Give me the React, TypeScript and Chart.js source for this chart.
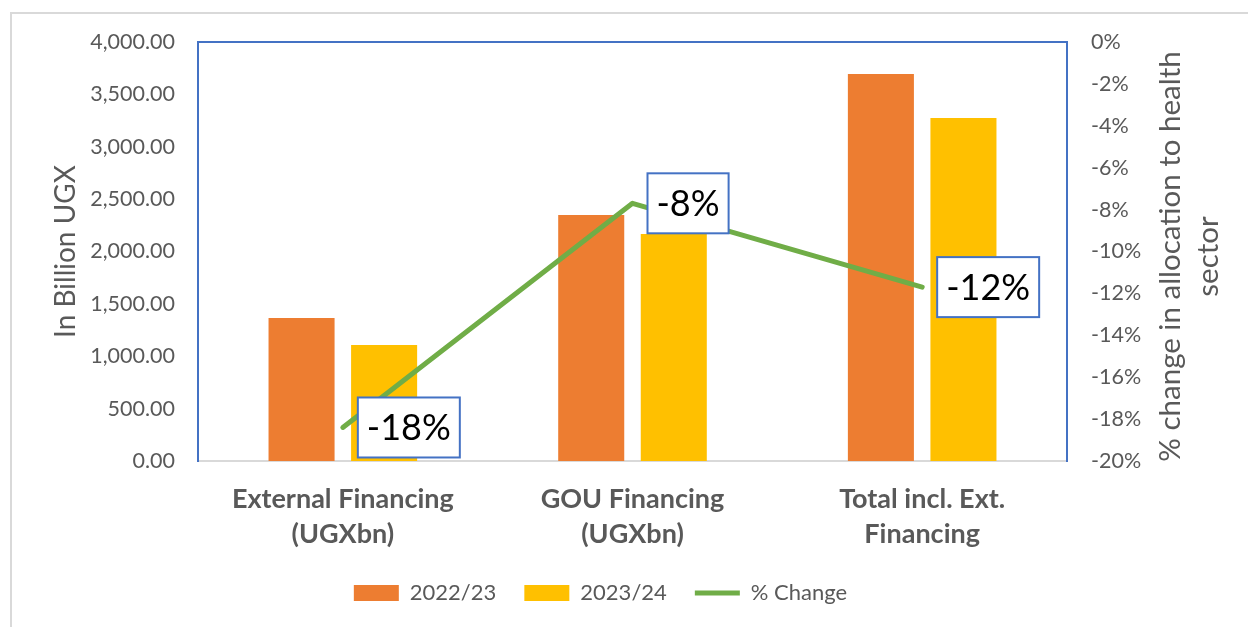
import React, { useEffect, useRef } from "react";
import { Chart, registerables } from "chart.js";

Chart.register(...registerables);

const categories: string[][] = [
  ["External Financing", "(UGXbn)"],
  ["GOU Financing", "(UGXbn)"],
  ["Total incl. Ext.", "Financing"],
];
const values2022: number[] = [1365, 2348, 3695];
const values2023: number[] = [1107, 2167, 3274];
const pctChange: number[] = [-18.4, -7.7, -11.7];
const seriesNames: string[] = ["2022/23", "2023/24", "% Change"];
const leftTitle = "In Billion UGX";
const rightTitleLines: string[] = ["% change in allocation to health", "sector"];

const FONT = "Lato, 'Open Sans', sans-serif";
const GREY = "#595959";
const BLUE = "#4472C4";

const frameLines = {
  id: "frameLines",
  beforeDatasetsDraw(chart: any) {
    const { ctx, chartArea } = chart;
    ctx.save();
    ctx.strokeStyle = BLUE;
    ctx.lineWidth = 2;
    ctx.beginPath();
    ctx.moveTo(chartArea.left, chartArea.bottom);
    ctx.lineTo(chartArea.left, chartArea.top);
    ctx.lineTo(chartArea.right, chartArea.top);
    ctx.lineTo(chartArea.right, chartArea.bottom);
    ctx.stroke();
    ctx.restore();
  },
};

const rightTitle = {
  id: "rightTitle",
  afterDraw(chart: any) {
    const { ctx } = chart;
    const s = chart.scales.y2;
    const cy = (s.top + s.bottom) / 2 + 5;
    ctx.save();
    ctx.translate(s.left + 103, cy);
    ctx.rotate(-Math.PI / 2);
    ctx.font = `29.5px ${FONT}`;
    ctx.fillStyle = GREY;
    ctx.textAlign = "center";
    ctx.textBaseline = "middle";
    rightTitleLines.forEach((line, i) => ctx.fillText(line, 0, i * 38));
    ctx.restore();
  },
};

const shiftLegend = {
  id: "shiftLegend",
  afterLayout(chart: any) {
    const lg = chart.legend;
    if (lg) {
      lg.left -= 13;
      lg.right -= 13;
    }
  },
};

const boxLabels = {
  id: "boxLabels",
  afterDatasetsDraw(chart: any) {
    const { ctx } = chart;
    const meta = chart.getDatasetMeta(2);
    if (!meta || meta.hidden) return;
    const data = chart.data.datasets[2].data as number[];
    ctx.save();
    ctx.font = `36px ${FONT}`;
    meta.data.forEach((pt: any, i: number) => {
      const text = `${Math.round(data[i])}%`;
      const w = ctx.measureText(text).width + 18;
      const h = 60;
      const left = pt.x + 15;
      const top = pt.y - h / 2;
      ctx.fillStyle = "#ffffff";
      ctx.fillRect(left, top, w, h);
      ctx.strokeStyle = BLUE;
      ctx.lineWidth = 2;
      ctx.strokeRect(left, top, w, h);
      ctx.fillStyle = "#000000";
      ctx.textAlign = "center";
      ctx.textBaseline = "middle";
      ctx.fillText(text, left + w / 2, pt.y + 1);
    });
    ctx.restore();
  },
};

export default function App() {
  const ref = useRef<HTMLCanvasElement | null>(null);

  useEffect(() => {
    if (!ref.current) return;
    const chart = new Chart(ref.current, {
      type: "bar",
      data: {
        labels: categories,
        datasets: [
          {
            type: "bar",
            label: seriesNames[0],
            data: values2022,
            backgroundColor: "#ED7D31",
            borderWidth: 0,
            yAxisID: "y",
            pointStyle: "rect",
            categoryPercentage: 0.57,
            barPercentage: 0.8,
          } as any,
          {
            type: "bar",
            label: seriesNames[1],
            data: values2023,
            backgroundColor: "#FFC000",
            borderWidth: 0,
            yAxisID: "y",
            pointStyle: "rect",
            categoryPercentage: 0.57,
            barPercentage: 0.8,
          } as any,
          {
            type: "line",
            label: seriesNames[2],
            data: pctChange,
            borderColor: "#70AD47",
            backgroundColor: "#70AD47",
            borderWidth: 5,
            borderCapStyle: "round",
            borderJoinStyle: "round",
            pointRadius: 0,
            pointStyle: "line",
            tension: 0,
            yAxisID: "y2",
            order: -1,
          } as any,
        ],
      },
      options: {
        responsive: false,
        animation: false,
        devicePixelRatio: 1,
        layout: { padding: { top: 42, left: 0, right: 21, bottom: 13 } },
        plugins: {
          tooltip: { enabled: false },
          legend: {
            position: "bottom",
            labels: {
              usePointStyle: true,
              pointStyleWidth: 45,
              boxHeight: 16,
              padding: 28,
              color: GREY,
              font: { family: FONT, size: 22 },
              sort: (a: any, b: any) => a.datasetIndex - b.datasetIndex,
            },
          } as any,
        },
        scales: {
          x: {
            grid: { display: false, drawTicks: false },
            border: { display: true, color: "#d9d9d9", width: 2 },
            ticks: {
              color: GREY,
              padding: 21,
              maxRotation: 0,
              autoSkip: false,
              font: { family: FONT, size: 27, weight: "bold", lineHeight: 1.3 },
            },
            afterFit: (s: any) => {
              s.height = 93;
            },
          },
          y: {
            position: "left",
            min: 0,
            max: 4000,
            grid: { display: false, drawTicks: false },
            border: { display: true, color: BLUE, width: 2 },
            ticks: {
              stepSize: 500,
              padding: 23,
              color: GREY,
              font: { family: FONT, size: 21.5 },
              callback: (v: any) =>
                Number(v).toLocaleString("en-US", { minimumFractionDigits: 2, maximumFractionDigits: 2 }),
            },
            title: {
              display: true,
              text: leftTitle,
              color: GREY,
              font: { family: FONT, size: 28 },
              padding: { top: 49, bottom: 0 },
            },
            afterFit: (s: any) => {
              s.width = 198;
            },
          },
          y2: {
            position: "right",
            min: -20,
            max: 0,
            grid: { display: false, drawTicks: false },
            border: { display: true, color: BLUE, width: 2 },
            ticks: {
              stepSize: 2,
              padding: 24,
              color: GREY,
              font: { family: FONT, size: 21.5 },
              callback: (v: any) => `${Math.round(Number(v))}%`,
            },
            title: { display: false },
            afterFit: (s: any) => {
              s.width = 160;
            },
          },
        },
      } as any,
      plugins: [frameLines, boxLabels, rightTitle, shiftLegend],
    });
    return () => chart.destroy();
  }, []);

  return (
    <div style={{ position: "fixed", left: 0, top: 0, width: 1248, height: 627, background: "#fff", overflow: "hidden" }}>
      <div
        style={{
          position: "absolute",
          left: 10,
          top: 12,
          width: 1300,
          height: 700,
          borderLeft: "2px solid #d9d9d9",
          borderTop: "2px solid #d9d9d9",
        }}
      />
      <canvas ref={ref} width={1248} height={627} style={{ position: "absolute", left: 0, top: 0, width: 1248, height: 627 }} />
    </div>
  );
}
